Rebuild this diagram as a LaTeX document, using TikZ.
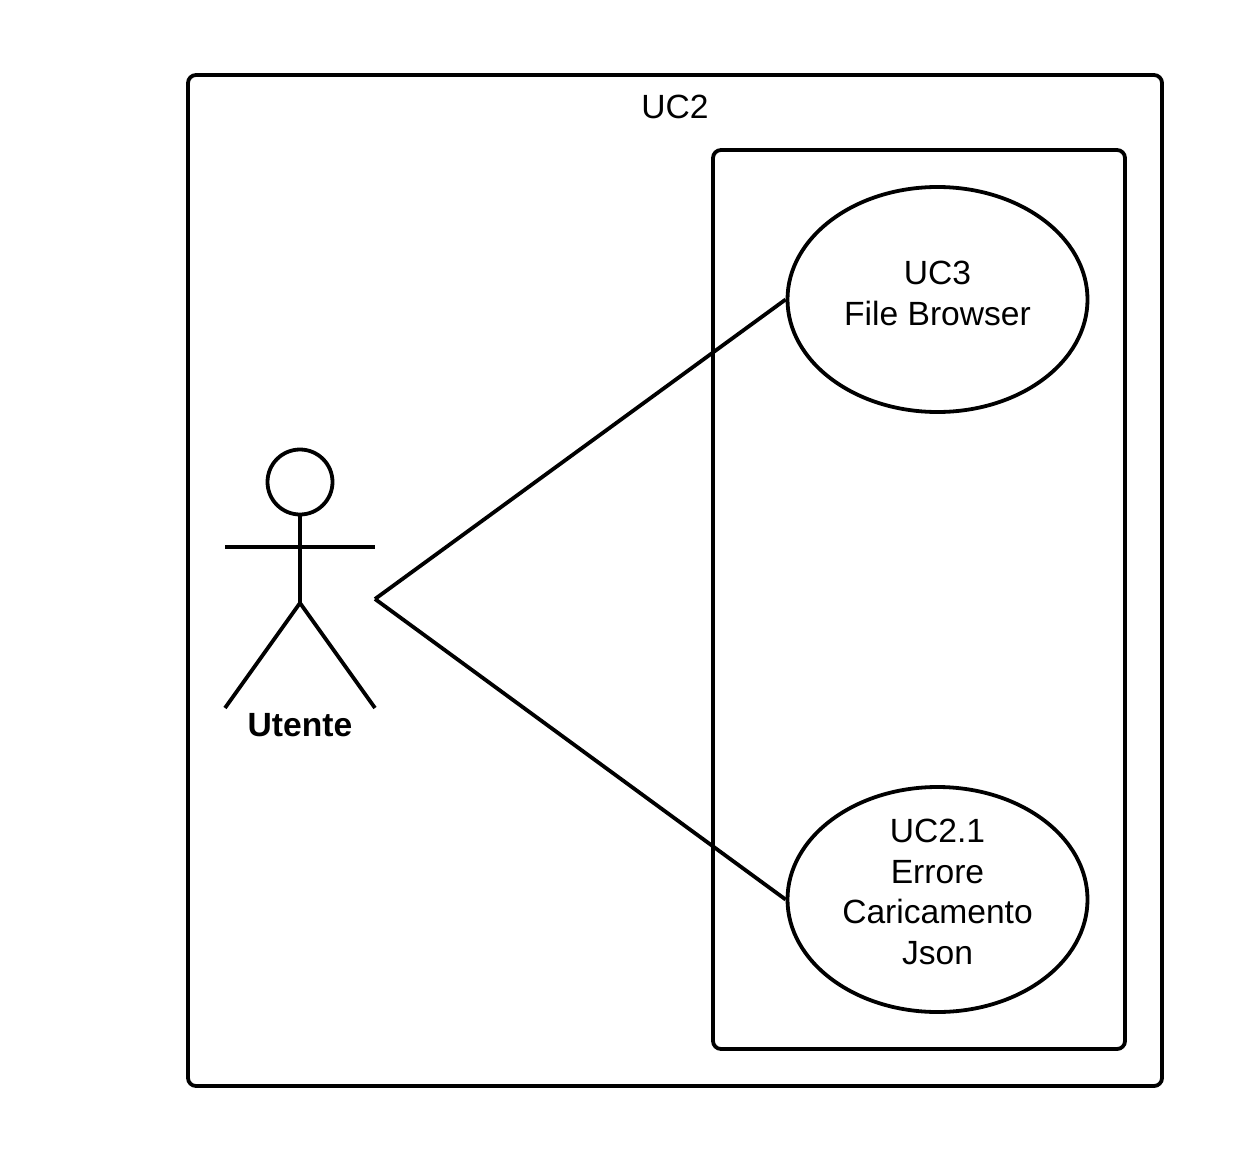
\documentclass[tikz,border=0pt]{standalone}
\usepackage{fontspec}
\setmainfont{Liberation Sans}
\usetikzlibrary{shapes.geometric}
\tikzset{
  px/.style={x=0.75pt,y=-0.75pt},
  ln/.style={draw=black,line width=2.85pt},
  frame/.style={ln,rounded corners=6pt},
  uc/.style={ln,ellipse,minimum width=225pt,minimum height=168.75pt,inner sep=0pt,align=center},
  uctext/.style={inner sep=0pt,align=center,font=\fontsize{25.2pt}{30.5pt}\selectfont},
  lbl/.style={font=\fontsize{25.2pt}{30pt}\selectfont,inner sep=0pt},
  conn/.style={draw=black,line width=2.85pt}
}
\begin{document}
\begin{tikzpicture}[px]
\useasboundingbox (0,0) rectangle (1238,1163);
\fill[white] (0,0) rectangle (1238,1163);
\draw[frame] (188,75) rectangle (1162,1086);
\node[lbl] (title) at (675,107) {UC2};
\draw[frame] (713,150) rectangle (1125,1049);
\node[uc] (uc3) at (937.5,299.5) {};
\node[uctext] (uc3t) at (937.5,293.5) {UC3\\File Browser};
\node[uc] (uc21) at (937.5,899.5) {};
\node[uctext] (uc21t) at (937.5,892) {UC2.1\\Errore\\Caricamento\\Json};
\node[ln,circle,minimum size=48.75pt,inner sep=0pt] (head) at (300,482) {};
\coordinate (hipc) at (300,603);
\coordinate (arml) at (225,547);
\coordinate (armr) at (375,547);
\coordinate (legl) at (225,708);
\coordinate (legr) at (375,708);
\coordinate (act) at (375,599);
\draw[ln] (head.south) -- (hipc);
\draw[ln] (arml) -- (armr);
\draw[ln,line join=round] (legl) -- (hipc) -- (legr);
\node[lbl,font=\fontsize{25.2pt}{30pt}\selectfont\bfseries] (utente) at (300,725) {Utente};
\draw[conn] (act) -- (uc3.west);
\draw[conn] (act) -- (uc21.west);
\end{tikzpicture}
\end{document}
